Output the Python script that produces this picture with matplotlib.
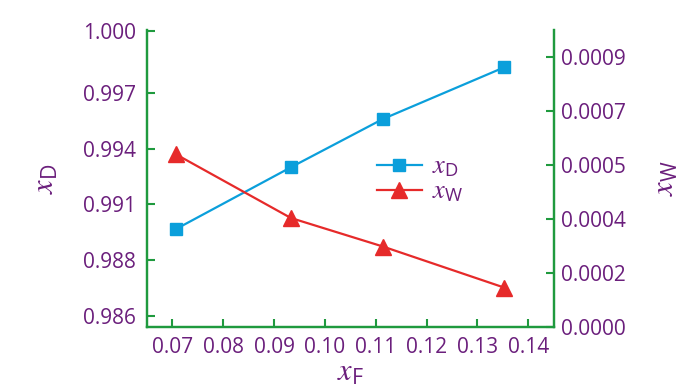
import numpy as np
import matplotlib
matplotlib.use('Agg')
import matplotlib.pyplot as plt

plt.rcParams['font.family'] = ['Open Sans', 'DejaVu Sans']
plt.rcParams['mathtext.fontset'] = 'custom'
plt.rcParams['mathtext.it'] = 'STIXGeneral:italic'
plt.rcParams['mathtext.rm'] = 'Open Sans'

#
# data
#
x_F = [0.0707, 0.0933, 0.1114, 0.1353]
x_D = [0.99002, 0.99323, 0.99574, 0.99843]
x_W = [0.000575, 0.000363, 0.000268, 0.000131]

xticks = [0.07, 0.08, 0.09, 0.10, 0.11, 0.12, 0.13, 0.14]
xtick_labels = ['0.07', '0.08', '0.09', '0.10', '0.11', '0.12', '0.13', '0.14']
left_ticks = [0.9855, 0.9884, 0.9913, 0.9942, 0.9971, 1.0003]
left_labels = ['0.986', '0.988', '0.991', '0.994', '0.997', '1.000']
right_ticks = [0.0, 0.00018, 0.00036, 0.00054, 0.00072, 0.0009]
right_labels = ['0.0000', '0.0002', '0.0004', '0.0005', '0.0007', '0.0009']

green = '#1f9a3e'
purple = '#6b1f7c'
blue = '#0b9fdb'
red = '#e62a2a'

fig = plt.figure(figsize=(7.0, 3.91), dpi=100)
ax1 = fig.add_axes([0.21, 0.1637, 0.5814, 0.7603])
ax2 = ax1.twinx()

l1, = ax1.plot(x_F, x_D, color=blue, lw=1.6, marker='s', ms=8,
               mec=blue, mfc=blue, label=r'$x_{\mathrm{D}}$')
l2, = ax2.plot(x_F, x_W, color=red, lw=1.6, marker='^', ms=11,
               mec=red, mfc=red, label=r'$x_{\mathrm{W}}$')

ax1.set_xlim(0.065, 0.14505)
ax1.set_ylim(0.98493, 1.00038)
ax2.set_ylim(0.0, 0.00099)

ax1.set_xticks(xticks)
ax1.set_xticklabels(xtick_labels)
ax1.set_yticks(left_ticks)
ax1.set_yticklabels(left_labels)
ax2.set_yticks(right_ticks)
ax2.set_yticklabels(right_labels)

for ax in (ax1, ax2):
    ax.spines['top'].set_visible(False)
    for s in ('left', 'right', 'bottom'):
        ax.spines[s].set_color(green)
        ax.spines[s].set_linewidth(1.6)
    ax.tick_params(direction='in', length=6, width=1.5, color=green,
                   labelcolor=purple, labelsize=15)
ax1.tick_params(axis='y', pad=8)
ax1.tick_params(axis='x', pad=7)
ax2.tick_params(axis='y', pad=5)

ax1.set_xlabel(r'$x_{\mathrm{F}}$', color=purple, fontsize=22, labelpad=0)
ax1.set_ylabel(r'$x_{\mathrm{D}}$', color=purple, fontsize=22, labelpad=16)
ax2.set_ylabel(r'$x_{\mathrm{W}}$', color=purple, fontsize=22, rotation=90,
               labelpad=18)

leg = ax2.legend(handles=[l1, l2], loc='center', frameon=False,
                 bbox_to_anchor=(0.6, 0.54), bbox_transform=fig.transFigure,
                 fontsize=19, handlelength=1.7, handletextpad=0.4,
                 labelspacing=0.0, borderpad=0.2)
for t in leg.get_texts():
    t.set_color(purple)

fig.savefig('out.png', dpi=100)
